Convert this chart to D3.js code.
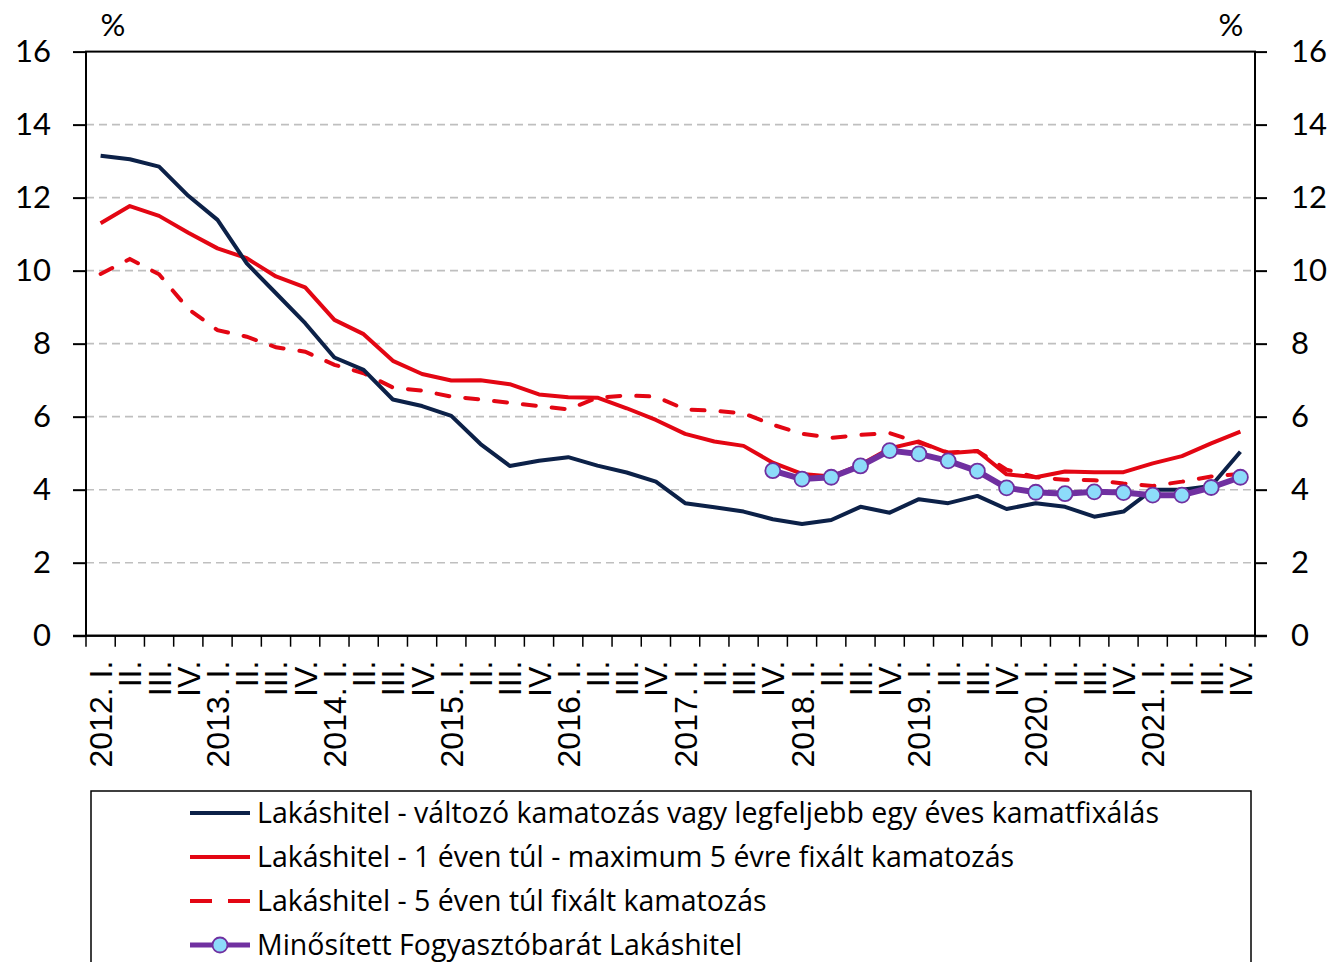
<!DOCTYPE html>
<html lang="hu">
<head>
<meta charset="UTF-8">
<title>Lakáshitel kamatok</title>
<script src="https://d3js.org/d3.v7.min.js"></script>
<style>
    body { margin: 0; background: #fff; }
    .tick-y { font-family: Lato, "Open Sans", sans-serif; font-size: 31px; fill: #000; }
    .tick-x { font-family: "Liberation Sans", Arial, sans-serif; font-size: 32px; fill: #000; }
    .legend-text { font-family: "Open Sans", Lato, sans-serif; font-size: 28.5px; fill: #000; }
</style>
</head>
<body>
<svg id="chart"></svg>
<script>
    const W = 1332, H = 962;

    // adatok
    const years = [2012, 2013, 2014, 2015, 2016, 2017, 2018, 2019, 2020, 2021];
    const quarters = ["I.", "II.", "III.", "IV."];
    const yTicks = [0, 2, 4, 6, 8, 10, 12, 14, 16];

    const valtozo = [13.15, 13.05, 12.85, 12.05, 11.39, 10.2, 9.38, 8.56, 7.62, 7.28,
        6.47, 6.29, 6.02, 5.25, 4.65, 4.79, 4.89, 4.66, 4.47, 4.22,
        3.63, 3.52, 3.4, 3.19, 3.06, 3.17, 3.53, 3.37, 3.74, 3.63,
        3.83, 3.47, 3.63, 3.53, 3.26, 3.4, 4.0, 4.0, 4.1, 5.04];
    const max5ev = [11.3, 11.77, 11.5, 11.04, 10.61, 10.34, 9.84, 9.54, 8.65, 8.26,
        7.53, 7.17, 6.99, 7.0, 6.89, 6.61, 6.53, 6.52, 6.23, 5.91,
        5.53, 5.32, 5.2, 4.74, 4.43, 4.36, 4.68, 5.13, 5.32, 5.0,
        5.06, 4.42, 4.34, 4.5, 4.48, 4.48, 4.72, 4.92, 5.27, 5.59];
    const tul5ev = [9.91, 10.32, 9.9, 8.95, 8.37, 8.19, 7.9, 7.78, 7.42, 7.19,
        6.8, 6.71, 6.55, 6.47, 6.38, 6.29, 6.2, 6.52, 6.58, 6.55,
        6.2, 6.16, 6.09, 5.78, 5.53, 5.42, 5.5, 5.55, 5.29, 5.02,
        5.06, 4.55, 4.34, 4.27, 4.26, 4.17, 4.1, 4.22, 4.36, 4.43];
    const mfl = [null, null, null, null, null, null, null, null, null, null,
        null, null, null, null, null, null, null, null, null, null,
        null, null, null, 4.52, 4.29, 4.34, 4.65, 5.07, 4.98, 4.79,
        4.51, 4.05, 3.93, 3.89, 3.94, 3.92, 3.85, 3.85, 4.06, 4.34];

    const legendNames = [
        "Lakáshitel - változó kamatozás vagy legfeljebb egy éves kamatfixálás",
        "Lakáshitel - 1 éven túl - maximum 5 évre fixált kamatozás",
        "Lakáshitel - 5 éven túl fixált kamatozás",
        "Minősített Fogyasztóbarát Lakáshitel"
    ];

    const categories = [];
    years.forEach(y => quarters.forEach(q => categories.push(q === "I." ? `${y}. ${q}` : q)));
    const keys = categories.map((c, i) => i);

    const m = { left: 86, right: 1255, top: 51.6, bottom: 635.7 };

    const svg = d3.select("#chart").attr("width", W).attr("height", H);

    const x = d3.scaleBand().domain(keys).range([m.left, m.right]).padding(0);
    const cx = i => x(i) + x.bandwidth() / 2;
    const y = d3.scaleLinear().domain([0, 16]).range([m.bottom, m.top]);

    // rácsvonalak
    svg.append("g")
        .selectAll("line")
        .data(yTicks.filter(t => t > 0 && t < 16))
        .join("line")
        .attr("x1", m.left).attr("x2", m.right)
        .attr("y1", d => y(d)).attr("y2", d => y(d))
        .attr("stroke", "#bfbfbf")
        .attr("stroke-width", 1.6)
        .attr("stroke-dasharray", "8,5");

    // tengelyek
    const yl = svg.append("g").attr("transform", `translate(${m.left},0)`)
        .call(d3.axisLeft(y).tickValues(yTicks).tickSize(13).tickPadding(22));
    const yr = svg.append("g").attr("transform", `translate(${m.right},0)`)
        .call(d3.axisRight(y).tickValues(yTicks).tickSize(12).tickPadding(24));
    [yl, yr].forEach(g => {
        g.select(".domain").remove();
        g.selectAll("line").attr("stroke", "#000").attr("stroke-width", 2);
        g.selectAll("text").attr("class", "tick-y").attr("font-family", null).attr("font-size", null);
    });

    // x tengely: osztásjelek a kategóriahatárokon
    const bounds = keys.concat([keys.length]);
    svg.append("g")
        .selectAll("line")
        .data(bounds)
        .join("line")
        .attr("x1", k => m.left + k * x.bandwidth())
        .attr("x2", k => m.left + k * x.bandwidth())
        .attr("y1", m.bottom).attr("y2", m.bottom + 11)
        .attr("stroke", "#000").attr("stroke-width", 1.5);

    svg.append("g")
        .selectAll("text")
        .data(keys)
        .join("text")
        .attr("class", "tick-x")
        .attr("transform", i => `translate(${cx(i)},${m.bottom + 25}) rotate(-90)`)
        .attr("text-anchor", "end")
        .attr("dy", "0.36em")
        .text(i => categories[i]);

    // keret
    svg.append("rect")
        .attr("x", m.left).attr("y", m.top)
        .attr("width", m.right - m.left).attr("height", m.bottom - m.top)
        .attr("fill", "none").attr("stroke", "#000").attr("stroke-width", 2);
    svg.append("line")
        .attr("x1", m.left - 13).attr("x2", m.right + 12)
        .attr("y1", m.bottom).attr("y2", m.bottom)
        .attr("stroke", "#000").attr("stroke-width", 2);

    svg.append("text").attr("class", "tick-y").attr("x", 113).attr("y", 36)
        .attr("text-anchor", "middle").text("%");
    svg.append("text").attr("class", "tick-y").attr("x", 1231).attr("y", 36)
        .attr("text-anchor", "middle").text("%");

    // vonalak
    const line = d3.line()
        .defined(d => d != null)
        .x((d, i) => cx(i))
        .y(d => y(d));

    const plot = svg.append("g");
    plot.append("path").datum(tul5ev).attr("d", line)
        .attr("fill", "none").attr("stroke", "#e30613").attr("stroke-width", 4)
        .attr("stroke-dasharray", "13,16").attr("stroke-linecap", "round");
    plot.append("path").datum(max5ev).attr("d", line)
        .attr("fill", "none").attr("stroke", "#e30613").attr("stroke-width", 4)
        .attr("stroke-linejoin", "round");
    plot.append("path").datum(valtozo).attr("d", line)
        .attr("fill", "none").attr("stroke", "#0c2148").attr("stroke-width", 4)
        .attr("stroke-linejoin", "round");
    plot.append("path").datum(mfl).attr("d", line)
        .attr("fill", "none").attr("stroke", "#7030a0").attr("stroke-width", 6)
        .attr("stroke-linejoin", "round");
    plot.append("g")
        .selectAll("circle")
        .data(mfl.map((v, i) => ({ v, i })).filter(d => d.v != null))
        .join("circle")
        .attr("cx", d => cx(d.i)).attr("cy", d => y(d.v)).attr("r", 7.5)
        .attr("fill", "#8ddcfa").attr("stroke", "#7030a0").attr("stroke-width", 1.8);

    // jelmagyarázat
    svg.append("rect")
        .attr("x", 91).attr("y", 791).attr("width", 1160).attr("height", 200)
        .attr("fill", "none").attr("stroke", "#000").attr("stroke-width", 1.5);

    const legendStyles = [
        { color: "#0c2148", dash: null, w: 4, marker: false },
        { color: "#e30613", dash: null, w: 4, marker: false },
        { color: "#e30613", dash: "22,16", w: 4, marker: false },
        { color: "#7030a0", dash: null, w: 5, marker: true }
    ];
    const lg = svg.append("g")
        .selectAll("g")
        .data(legendNames)
        .join("g")
        .attr("transform", (d, i) => `translate(0,${813 + i * 44})`);
    lg.append("line")
        .attr("x1", 190).attr("x2", 250).attr("y1", 0).attr("y2", 0)
        .attr("stroke", (d, i) => legendStyles[i].color)
        .attr("stroke-width", (d, i) => legendStyles[i].w)
        .attr("stroke-dasharray", (d, i) => legendStyles[i].dash);
    lg.filter((d, i) => legendStyles[i].marker)
        .append("circle")
        .attr("cx", 220).attr("cy", 0).attr("r", 7.5)
        .attr("fill", "#8ddcfa").attr("stroke", "#7030a0").attr("stroke-width", 1.8);
    lg.append("text")
        .attr("class", "legend-text")
        .attr("x", 257).attr("y", 0).attr("dy", "0.35em")
        .text(d => d);
</script>
</body>
</html>
